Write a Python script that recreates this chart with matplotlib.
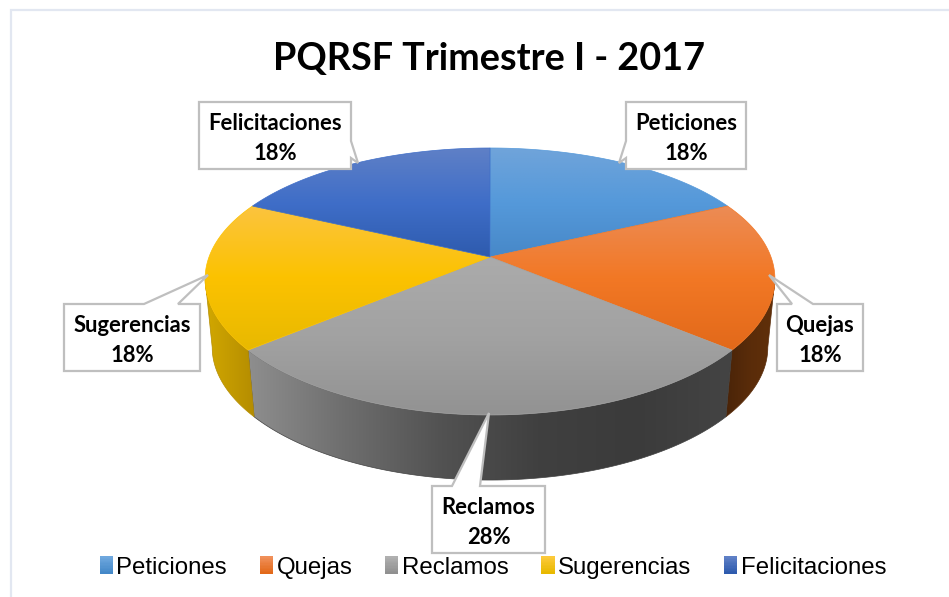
import numpy as np
import matplotlib
matplotlib.use("Agg")
import matplotlib.pyplot as plt
from matplotlib.colors import to_rgb
from matplotlib.legend_handler import HandlerBase
from matplotlib.patches import Patch, PathPatch, Polygon, Rectangle
from matplotlib.path import Path

# ---------------------------------------------------------------------------
# Data
# ---------------------------------------------------------------------------
TITLE = "PQRSF Trimestre I - 2017"
categories = ["Peticiones", "Quejas", "Reclamos", "Sugerencias", "Felicitaciones"]
values = [18, 18, 28, 18, 18]

# ---------------------------------------------------------------------------
# Style constants
# ---------------------------------------------------------------------------
TOP_GRADIENTS = [
    ["#70A4DA", "#5599DA", "#4788C8"],
    ["#EC8C56", "#F27825", "#E2691A"],
    ["#ABABAB", "#A2A2A2", "#929292"],
    ["#FBC440", "#FCC200", "#E8B900"],
    ["#5F80C6", "#3F6EC8", "#2E5BAE"],
]
SIDE_GRADIENTS = [
    ["#2E5BAE", "#2E5BAE"],
    ["#4A2408", "#5A2C0A", "#613009"],
    ["#8E8E8E", "#6E6E6E", "#525252", "#404040", "#3B3B3B", "#444444"],
    ["#D2A800", "#B58D00"],
    ["#2E5BAE", "#2E5BAE"],
]
LEGEND_GRADIENTS = [
    ["#6FA8DE", "#4488C8"],
    ["#F0905A", "#E2691A"],
    ["#B0B0B0", "#909090"],
    ["#FCC93A", "#E8B900"],
    ["#5F80C6", "#2E5BAE"],
]
# box: x0, y0, x1, y1 in pixels, then the callout tail points
CALLOUTS = [
    ((626, 102, 746, 169), [(626, 158), (619, 163), (626, 141)], "left"),
    ((777, 304, 863, 371), [(792, 304), (769, 275), (813, 304)], "top"),
    ((432, 486, 545, 553), [(452, 486), (489, 413), (480, 486)], "top"),
    ((64, 304, 200, 371), [(144, 304), (208, 275), (178, 304)], "top"),
    ((199, 102, 351, 169), [(351, 141), (358, 163), (351, 158)], "right"),
]
CX, CY = 490, 257
A, B = 281, 129
KX, KY = 0.165, 0.1835   # perspective of the pie top
BASE_SCALE, BASE_DY = 0.975, 69
EDGE = "#BFBFBF"


def project(theta, scale=1.0, dy=0.0):
    u, v = np.cos(theta), np.sin(theta)
    return np.column_stack([CX + A * scale * u / (1 + KX * v),
                            CY - B * scale * v / (1 + KY * v) + dy])


def gradient_fill(ax, pts, stops, vertical, zorder):
    pts = np.asarray(pts)
    rgb = np.array([to_rgb(c) for c in stops])
    x0, y0 = pts.min(axis=0)
    x1, y1 = pts.max(axis=0)
    pos = np.linspace(0, 1, len(stops))
    t = np.linspace(0, 1, 256)
    line = np.column_stack([np.interp(t, pos, rgb[:, i]) for i in range(3)])
    img = line[:, None, :] if vertical else line[None, :, :]
    im = ax.imshow(img, extent=(x0, x1, y1, y0), origin="upper", aspect="auto",
                   interpolation="bilinear", zorder=zorder)
    # thin outline softens the hard edge of the image clip
    path = Path(np.vstack([pts, pts[:1]]), closed=True)
    patch = PathPatch(path, facecolor="none", edgecolor=stops[len(stops) // 2],
                      linewidth=0.5, zorder=zorder)
    ax.add_patch(patch)
    im.set_clip_path(patch)


class GradientHandler(HandlerBase):
    def __init__(self, stops):
        super().__init__()
        self.stops = stops

    def create_artists(self, legend, orig_handle, xdescent, ydescent, width, height, fontsize, trans):
        rgb = np.array([to_rgb(c) for c in self.stops])
        n = 12
        out = []
        for i in range(n):
            col = rgb[0] + (rgb[1] - rgb[0]) * i / (n - 1)
            # drawn from the top of the swatch down
            out.append(Rectangle((-xdescent, -ydescent + height * (n - 1 - i) / n), width, height / n + 0.2,
                                 facecolor=col, edgecolor="none", transform=trans))
        return out


# ---------------------------------------------------------------------------
# Figure
# ---------------------------------------------------------------------------
fig = plt.figure(figsize=(9.49, 5.97), dpi=100)
ax = fig.add_axes([0, 0, 1, 1])

ax.add_patch(Rectangle((11, 10), 1000, 700, facecolor="white", edgecolor="#E2E7F1",
                       linewidth=1.6, zorder=0))

fractions = np.cumsum([0] + values) / np.sum(values)
angles = np.pi / 2 - 2 * np.pi * fractions

# the wall is only visible between the two outermost points of the ellipse
tip = np.arcsin(KX)
for i in range(len(values)):
    # clockwise angles, so unwrap into the range below the tips
    hi = min(angles[i], -tip)
    lo = max(angles[i + 1], -np.pi + tip)
    if hi <= lo:
        continue
    th = np.linspace(hi, lo, 120)
    top = project(th)
    base = project(th, BASE_SCALE, BASE_DY)
    gradient_fill(ax, np.vstack([top, base[::-1]]), SIDE_GRADIENTS[i], False, 2)

for i in range(len(values)):
    th = np.linspace(angles[i], angles[i + 1], 120)
    pts = np.vstack([[[CX, CY]], project(th)])
    gradient_fill(ax, pts, TOP_GRADIENTS[i], True, 3)

# data label callouts
for name, val, (box, tail, side) in zip(categories, values, CALLOUTS):
    x0, y0, x1, y1 = box
    if side == "top":
        outline = [(x0, y0)] + tail + [(x1, y0), (x1, y1), (x0, y1)]
    elif side == "right":
        outline = [(x0, y0), (x1, y0)] + tail + [(x1, y1), (x0, y1)]
    else:
        outline = [(x0, y0), (x1, y0), (x1, y1), (x0, y1)] + tail
    ax.add_patch(Polygon(outline, closed=True, facecolor="white", edgecolor=EDGE,
                         linewidth=1.6, joinstyle="miter", zorder=5))
    ax.text((x0 + x1) / 2, (y0 + y1) / 2 + 3, f"{name}\n{val}%", ha="center", va="center",
            family="Lato", fontweight="bold", fontsize=15.8, linespacing=1.5, color="black", zorder=6)

ax.text(489.5, 59, TITLE, ha="center", va="center", family="Lato", fontweight="bold",
        fontsize=27.2, color="black", zorder=6)

handles = [Patch(label=c) for c in categories]
ax.legend(handles=handles, loc="center", bbox_to_anchor=(493 / 949, 1 - 567.5 / 597),
          ncol=5, frameon=False, prop={"family": "Liberation Sans", "size": 17.3},
          handlelength=0.55, handleheight=0.76, handletextpad=0.15, columnspacing=1.36,
          borderpad=0, borderaxespad=0,
          handler_map={h: GradientHandler(s) for h, s in zip(handles, LEGEND_GRADIENTS)})

ax.set_xlim(0, 949)
ax.set_ylim(597, 0)
ax.axis("off")

fig.savefig("out.png", dpi=100)
plt.close(fig)
